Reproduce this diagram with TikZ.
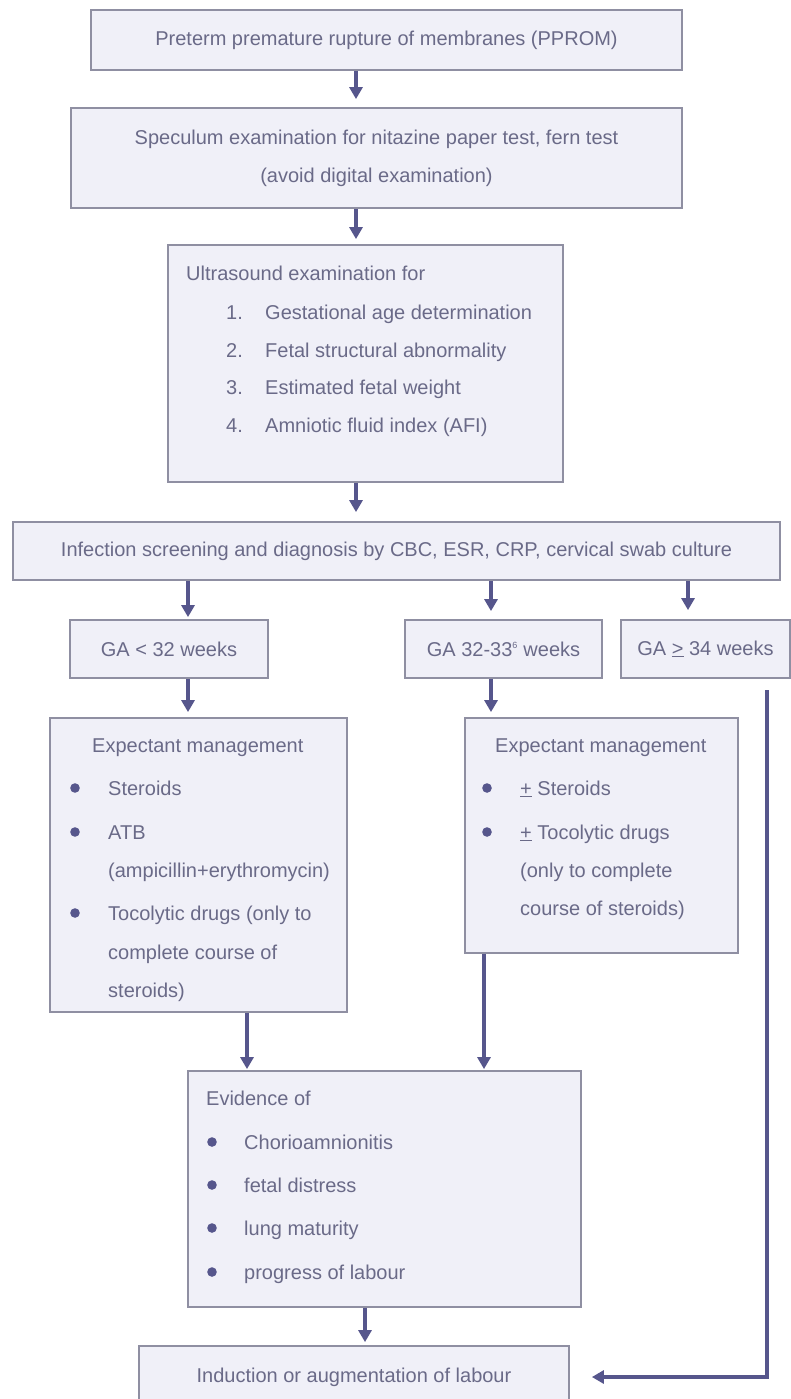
\documentclass[tikz,border=0pt]{standalone}
\usepackage{fontspec}
\setmainfont{Liberation Sans}
\usetikzlibrary{arrows.meta}
\definecolor{boxfill}{HTML}{F0F0F8}
\definecolor{boxline}{HTML}{8F8FA2}
\definecolor{txtc}{HTML}{6A6A88}
\definecolor{arrc}{HTML}{56568C}
\begin{document}
\begin{tikzpicture}[x=1pt,y=-1pt,
  font=\fontsize{20}{24}\selectfont,
  box/.style={draw=boxline, fill=boxfill, line width=1.8pt, inner sep=0pt, text=txtc, align=center},
  lbl/.style={inner sep=0pt, text=txtc, text height=14pt, text depth=0pt, anchor=west},
  arr/.style={draw=arrc, line width=3.5pt, -{Triangle[width=13pt,length=12pt]}},
  bul/.style={fill=arrc}]
\useasboundingbox (0,0) rectangle (791,1399);
\fill[white] (0,0) rectangle (791,1399);

% boxes
\node[box, minimum width=591pt, minimum height=60pt] (b1) at (386.5,40) {Preterm premature rupture of membranes (PPROM)};
\node[box, minimum width=611pt, minimum height=100pt, font=\fontsize{20}{38}\selectfont] (b2) at (376.5,158) {Speculum examination for nitazine paper test, fern test\\(avoid digital examination)};
\node[box, minimum width=395pt, minimum height=237pt] (b3) at (365.5,363.5) {};
\node[box, minimum width=767pt, minimum height=58pt] (b4) at (396.5,551) {Infection screening and diagnosis by CBC, ESR, CRP, cervical swab culture};
\node[box, minimum width=198pt, minimum height=58pt] (g1) at (169,649) {GA < 32 weeks};
\node[box, minimum width=197pt, minimum height=58pt] (g2) at (503.5,649) {GA 32-33\textsuperscript{\fontsize{9}{9}\selectfont 6} weeks};
\node[box, minimum width=169pt, minimum height=58pt] (g3) at (705.5,649) {GA \underline{>} 34 weeks};
\node[box, minimum width=297pt, minimum height=294pt] (b8) at (198.5,865) {};
\node[box, minimum width=273pt, minimum height=235pt] (b9) at (601.5,835.5) {};
\node[box, minimum width=393pt, minimum height=236pt] (b10) at (384.5,1189) {};
\node[box, minimum width=430pt, minimum height=62pt] (b11) at (354,1377) {Induction or augmentation of labour};

% ultrasound list
\node[lbl] (u0) at (186,273) {Ultrasound examination for};
\node[lbl] (u1n) at (226,312) {1.};
\node[lbl] (u1) at (265,312) {Gestational age determination};
\node[lbl] (u2n) at (226,350) {2.};
\node[lbl] (u2) at (265,350) {Fetal structural abnormality};
\node[lbl] (u3n) at (226,387) {3.};
\node[lbl] (u3) at (265,387) {Estimated fetal weight};
\node[lbl] (u4n) at (226,425) {4.};
\node[lbl] (u4) at (265,425) {Amniotic fluid index (AFI)};

% left expectant management
\node[lbl] (l0) at (92,745) {Expectant management};
\node[lbl] (l1) at (108,788) {Steroids};
\node[lbl] (l2) at (108,832) {ATB};
\node[lbl] (l3) at (108,870) {(ampicillin+erythromycin)};
\node[lbl] (l4) at (108,913) {Tocolytic drugs (only to};
\node[lbl] (l5) at (108,952) {complete course of};
\node[lbl] (l6) at (108,990) {steroids)};
\fill[bul] (75,788) circle (4.8pt);
\fill[bul] (75,832) circle (4.8pt);
\fill[bul] (75,913) circle (4.8pt);

% right expectant management
\node[lbl] (r0) at (495,745) {Expectant management};
\node[lbl] (r1) at (520,788) {\underline{+} Steroids};
\node[lbl] (r2) at (520,832) {\underline{+} Tocolytic drugs};
\node[lbl] (r3) at (520,870) {(only to complete};
\node[lbl] (r4) at (520,908) {course of steroids)};
\fill[bul] (487,788) circle (4.8pt);
\fill[bul] (487,832) circle (4.8pt);

% evidence
\node[lbl] (e0) at (206,1098) {Evidence of};
\node[lbl] (e1) at (244,1142) {Chorioamnionitis};
\node[lbl] (e2) at (244,1185) {fetal distress};
\node[lbl] (e3) at (244,1228) {lung maturity};
\node[lbl] (e4) at (244,1272) {progress of labour};
\fill[bul] (212,1142) circle (4.8pt);
\fill[bul] (212,1185) circle (4.8pt);
\fill[bul] (212,1228) circle (4.8pt);
\fill[bul] (212,1272) circle (4.8pt);

% connector x positions
\coordinate (xa) at (356,0);
\coordinate (xl) at (188,0);
\coordinate (xm) at (491,0);
\coordinate (xr) at (688,0);
\coordinate (xe1) at (247,0);
\coordinate (xe2) at (484,0);
\coordinate (xf) at (365,0);
\coordinate (rl) at (767,690);

\draw[arr, shorten >=8pt] (b1.south -| xa) -- (b2.north -| xa);
\draw[arr, shorten >=5pt] (b2.south -| xa) -- (b3.north -| xa);
\draw[arr, shorten >=9pt] (b3.south -| xa) -- (b4.north -| xa);
\draw[arr, shorten >=2pt] (b4.south -| xl) -- (g1.north -| xl);
\draw[arr, shorten >=8pt] (b4.south -| xm) -- (g2.north -| xm);
\draw[arr, shorten >=9pt] (b4.south -| xr) -- (g3.north -| xr);
\draw[arr, shorten >=5pt] (g1.south -| xl) -- (b8.north -| xl);
\draw[arr, shorten >=5pt] (g2.south -| xm) -- (b9.north -| xm);
\draw[arr, shorten >=1pt] (b8.south -| xe1) -- (b10.north -| xe1);
\draw[arr, shorten >=1pt] (b9.south -| xe2) -- (b10.north -| xe2);
\draw[arr, shorten >=3pt] (b10.south -| xf) -- (b11.north -| xf);
\draw[arr, shorten >=22pt] (rl) |- (b11.east);
\end{tikzpicture}
\end{document}
